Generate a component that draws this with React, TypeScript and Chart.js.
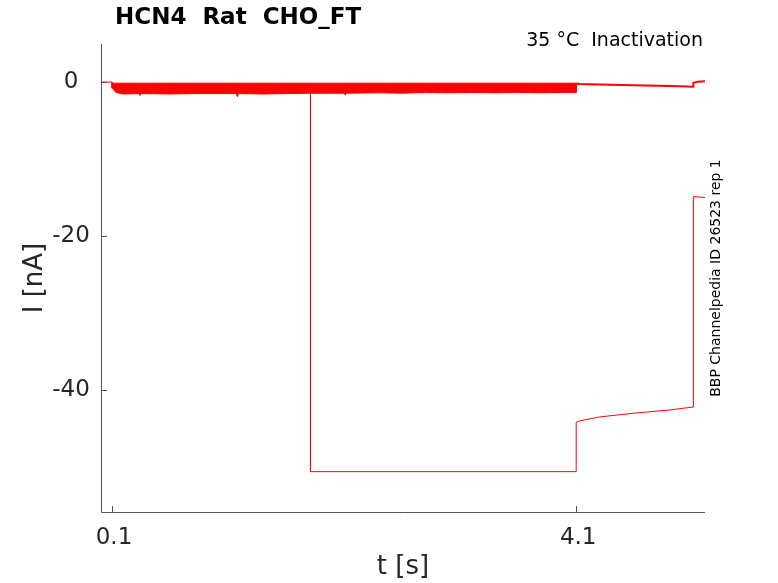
import { useEffect, useRef } from "react"
import { Chart, registerables } from "chart.js"

Chart.register(...registerables)

// Sweep with the big hyperpolarising step (t in s, I in nA)
const mainT = [0.005, 0.1, 0.1, 1.81, 1.81, 4.1, 4.1, 4.13, 4.3, 4.6, 4.9, 5.11, 5.11, 5.14, 5.21]
const mainI = [0, 0, -0.8, -1.0, -50.6, -50.6, -44.2, -44.0, -43.5, -43.0, -42.6, -42.2, -14.9, -14.9, -15.0]

// Envelope of the overlaid small sweeps
const bandTopT = [0.1, 4.1]
const bandTopI = [-0.15, -0.15]
const bandBottomT = [0.1, 0.11, 0.13, 0.16, 0.2, 0.33, 0.34, 0.35, 0.6, 0.8, 1.0, 1.17, 1.18, 1.19, 1.4, 1.6, 1.8, 2.0, 2.1, 2.11, 2.12, 2.4, 2.6, 2.8, 3.0, 3.2, 3.4, 3.6, 3.8, 4.0, 4.1]
const bandBottomI = [-0.3, -0.9, -1.3, -1.45, -1.55, -1.5, -1.75, -1.5, -1.55, -1.5, -1.5, -1.5, -1.9, -1.5, -1.55, -1.5, -1.45, -1.45, -1.45, -1.7, -1.45, -1.4, -1.45, -1.35, -1.4, -1.35, -1.4, -1.35, -1.4, -1.35, -1.35]

// Small sweeps after the test step
const tailT = [4.1, 4.13, 4.4, 4.7, 5.0, 5.11, 5.11, 5.15, 5.21]
const tailI = [-0.2, -0.25, -0.35, -0.45, -0.55, -0.6, -0.1, 0.05, 0.1]

const xTicks = [0.1, 4.1]
const yTicks = [0, -20, -40]

const FONT = "'DejaVu Sans', sans-serif"
const INK = "#262626"

const pts = (t: number[], v: number[]) => t.map((x, i) => ({ x, y: v[i] }))

const matlabAxes = {
  id: "matlabAxes",
  afterDraw(chart: Chart) {
    const { ctx, chartArea: a, scales } = chart
    const x = scales.x
    const y = scales.y
    ctx.save()
    ctx.strokeStyle = "#555"
    ctx.lineWidth = 1
    ctx.beginPath()
    ctx.moveTo(a.left + 0.5, a.top)
    ctx.lineTo(a.left + 0.5, a.bottom + 0.5)
    ctx.lineTo(a.right, a.bottom + 0.5)
    xTicks.forEach((t) => {
      const px = Math.round(x.getPixelForValue(t)) + 0.5
      ctx.moveTo(px, a.bottom)
      ctx.lineTo(px, a.bottom - 6)
    })
    yTicks.forEach((t) => {
      const py = Math.round(y.getPixelForValue(t)) + 0.5
      ctx.moveTo(a.left, py)
      ctx.lineTo(a.left + 6, py)
    })
    ctx.stroke()

    ctx.fillStyle = INK
    ctx.font = `23px ${FONT}`
    ctx.textBaseline = "middle"
    ctx.textAlign = "center"
    xTicks.forEach((t) => ctx.fillText(String(t), x.getPixelForValue(t) + 2, a.bottom + 26))
    yTicks.forEach((t) => ctx.fillText(String(t), a.left - 30, y.getPixelForValue(t)))

    ctx.font = `26px ${FONT}`
    ctx.fillText("t [s]", (a.left + a.right) / 2, 567)
    ctx.save()
    ctx.translate(35, (a.top + a.bottom) / 2)
    ctx.rotate(-Math.PI / 2)
    ctx.fillText("I [nA]", 0, 0)
    ctx.restore()

    ctx.fillStyle = "#000"
    ctx.font = `bold 23px ${FONT}`
    ctx.textAlign = "left"
    ctx.fillText("HCN4  Rat  CHO_FT", 115, 18)

    ctx.font = `19px ${FONT}`
    ctx.textAlign = "right"
    ctx.fillText("35 °C  Inactivation", 703, 41)

    ctx.save()
    ctx.translate(716, (a.top + a.bottom) / 2)
    ctx.rotate(-Math.PI / 2)
    ctx.textAlign = "center"
    ctx.font = `14px ${FONT}`
    ctx.fillText("BBP Channelpedia ID 26523 rep 1", 0, 0)
    ctx.restore()
    ctx.restore()
  },
}

export default function App() {
  const canvasRef = useRef<HTMLCanvasElement>(null)
  const chartRef = useRef<Chart | null>(null)

  useEffect(() => {
    document.body.style.margin = "0"
    if (!canvasRef.current) return
    const ctx = canvasRef.current.getContext("2d")
    if (!ctx) return
    if (chartRef.current) chartRef.current.destroy()

    // band as a closed outline: top edge left to right, bottom edge back
    const band = pts(bandTopT, bandTopI).concat(pts(bandBottomT, bandBottomI).reverse())

    chartRef.current = new Chart(ctx, {
      type: "scatter",
      data: {
        datasets: [
          {
            data: band,
            showLine: true,
            fill: "shape",
            backgroundColor: "#ff0000",
            borderColor: "#ff0000",
            borderWidth: 1,
            pointRadius: 0,
            tension: 0,
          },
          {
            data: pts(tailT, tailI),
            showLine: true,
            borderColor: "#ff0000",
            borderWidth: 2,
            pointRadius: 0,
          },
          {
            data: pts(mainT, mainI),
            showLine: true,
            borderColor: "#ff0000",
            borderWidth: 1,
            pointRadius: 0,
          },
        ],
      },
      options: {
        responsive: false,
        animation: false,
        devicePixelRatio: 1,
        layout: { padding: { left: 101, right: 73, top: 44, bottom: 71 } },
        plugins: { legend: { display: false }, tooltip: { enabled: false } },
        scales: {
          x: { type: "linear", min: 0.005, max: 5.21, display: false },
          y: { type: "linear", min: -55.84, max: 4.94, display: false },
        },
      },
      plugins: [matlabAxes],
    })

    return () => {
      if (chartRef.current) {
        chartRef.current.destroy()
        chartRef.current = null
      }
    }
  }, [])

  return (
    <div style={{ position: "fixed", left: 0, top: 0, width: 778, height: 583, background: "#fff" }}>
      <canvas ref={canvasRef} width={778} height={583}></canvas>
    </div>
  )
}
